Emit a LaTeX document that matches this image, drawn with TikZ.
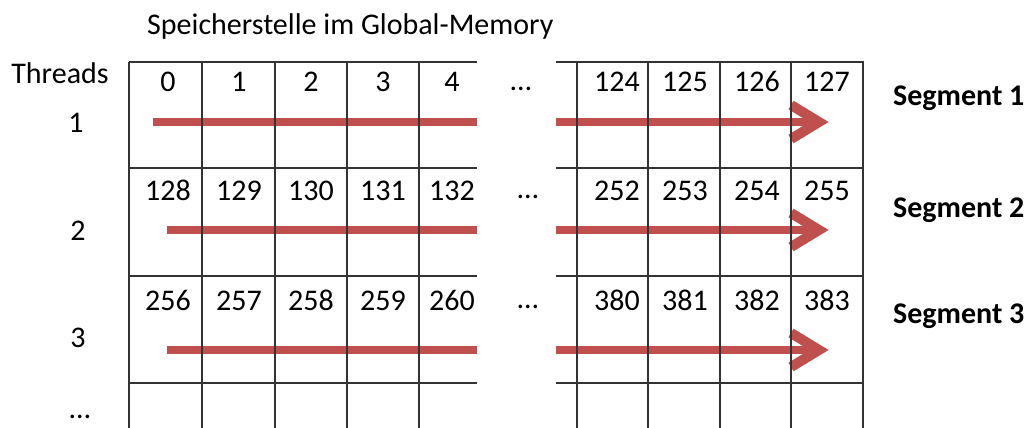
\documentclass[tikz,border=0pt]{standalone}
\usepackage{fontspec}
\setmainfont{Carlito}
\definecolor{segred}{HTML}{C0504D}
\tikzset{
  gridline/.style={line width=1.4pt, black!80},
  txt/.style={anchor=base, inner sep=0pt, font=\fontsize{30}{35}\selectfont},
  segtxt/.style={anchor=base west, inner sep=0pt, font=\fontsize{30}{35}\selectfont\bfseries},
  readbar/.style={line width=8pt, segred, line join=miter},
  readhead/.style={readbar, line width=10pt},
}

\begin{document}
\begin{tikzpicture}[x=1pt,y=-1pt]
  \useasboundingbox (0,0) rectangle (1028,428);
  % Title above the memory cells
  \node[txt, anchor=base west] (title) at (147,35) {Speicherstelle im Global-Memory};
  % Thread numbers on the left
  \node[txt] (threads) at (60,83) {Threads};
  \node[txt] (t1) at (76,132) {1};
  \node[txt] (t2) at (78,240) {2};
  \node[txt] (t3) at (78,347) {3};
  \node[txt] (tdots) at (80,418) {…};
  % Access of each thread: red bars and arrows
  \foreach \r/\ya/\xs in {1/122/153,2/230/167,3/350/167} {
    \coordinate (l\r s) at (\xs,\ya);
    \coordinate (l\r e) at (477,\ya);
    \coordinate (r\r s) at (556,\ya);
    \coordinate (r\r e) at (819,\ya);
    \draw[readbar] (l\r s) -- (l\r e);
    \draw[readbar] (r\r s) -- (r\r e);
    % open arrow head
    \draw[readhead] (r\r e) ++(-28,-17) -- (r\r e) -- ++(-28,17);
  }
  % Grid, left part
  \foreach \y in {62,168,276,383} \draw[gridline] (129,\y) -- (477,\y);
  \foreach \x in {129,202,275,347,419} \draw[gridline] (\x,62) -- (\x,428);
  % Grid, right part
  \foreach \y in {62,168,276,383} \draw[gridline] (556,\y) -- (864,\y);
  \foreach \x in {577,648,720,791,863} \draw[gridline] (\x,62) -- (\x,428);
  % Addresses in the cells
  \foreach \r/\yb/\xd in {0/92/521,1/200/528,2/310/528} {
    \foreach \c/\x in {0/168,1/239,2/311,3/383,4/452} {
      \pgfmathtruncatemacro{\n}{128*\r+\c}
      \node[txt] (n\n) at (\x,\yb) {\n};
    }
    \foreach \c/\x in {124/617,125/685,126/757,127/827} {
      \pgfmathtruncatemacro{\n}{128*\r+\c}
      \node[txt] (n\n) at (\x,\yb) {\n};
    }
    \node[txt] (cdots\r) at (\xd,\yb-2) {…};
  }
  % Segment labels
  \node[segtxt] (seg1) at (893,105) {Segment 1};
  \node[segtxt] (seg2) at (893,217) {Segment 2};
  \node[segtxt] (seg3) at (893,323) {Segment 3};
\end{tikzpicture}
\end{document}
